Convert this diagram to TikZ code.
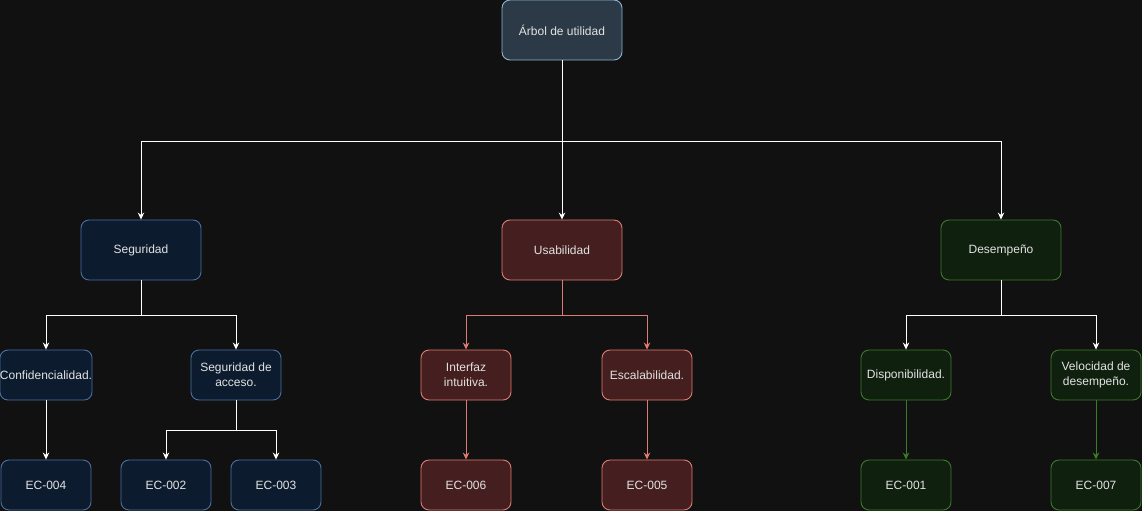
\documentclass[tikz,border=0pt]{standalone}
\usepackage{fontspec}
\setmainfont{Liberation Sans}
\usetikzlibrary{arrows.meta}
\definecolor{bgc}{HTML}{111111}
\definecolor{txt}{HTML}{E2E2E2}
\definecolor{rootfill}{HTML}{2B3A46}
\definecolor{rootline}{HTML}{8FB4D4}
\definecolor{bluefill}{HTML}{0D1B2E}
\definecolor{blueline}{HTML}{4A6FA3}
\definecolor{redfill}{HTML}{451F1F}
\definecolor{redline}{HTML}{E07A72}
\definecolor{greenfill}{HTML}{10200F}
\definecolor{greenline}{HTML}{3B7A27}
\tikzset{
  box/.style={draw, line width=0.9pt, rounded corners=8pt, text=txt, align=center,
    inner xsep=0pt, inner ysep=2pt,
    font=\fontsize{12}{15}\selectfont},
  bigbox/.style={box, minimum width=120pt, minimum height=60pt},
  smallbox/.style={box, minimum width=90pt, minimum height=50pt},
  rootc/.style={fill=rootfill, draw=rootline},
  bluec/.style={fill=bluefill, draw=blueline},
  redc/.style={fill=redfill, draw=redline},
  greenc/.style={fill=greenfill, draw=greenline},
  link/.style={line width=0.9pt, -{Stealth[length=7pt,width=6.5pt]}},
  wlink/.style={link, draw=white},
  rlink/.style={link, draw=redline},
  glink/.style={link, draw=greenline},
}
\begin{document}
\begin{tikzpicture}[x=1pt, y=-1pt]
  \fill[bgc] (0,0) rectangle (1142,511);
  \useasboundingbox (0,0) rectangle (1142,511);
  \clip (0,0) rectangle (1142,511);

  % top level
  \node[bigbox, rootc] (root) at (562,30) {Árbol de utilidad};

  % categories
  \node[bigbox, bluec] (seg) at (141,250) {Seguridad};
  \node[bigbox, redc] (usa) at (562,250) {Usabilidad};
  \node[bigbox, greenc] (des) at (1001,250) {Desempeño};

  % attributes
  \node[smallbox, bluec] (conf) at (46,375) {Confidencialidad.};
  \node[smallbox, bluec] (acc) at (236,375) {Seguridad de\\acceso.};
  \node[smallbox, redc] (intf) at (466,375) {Interfaz\\intuitiva.};
  \node[smallbox, redc] (esc) at (647,375) {Escalabilidad.};
  \node[smallbox, greenc] (disp) at (906,375) {Disponibilidad.};
  \node[smallbox, greenc] (vel) at (1096,375) {Velocidad de\\desempeño.};

  % scenarios
  \node[smallbox, bluec] (ec4) at (46,485) {EC-004};
  \node[smallbox, bluec] (ec2) at (166,485) {EC-002};
  \node[smallbox, bluec] (ec3) at (276,485) {EC-003};
  \node[smallbox, redc] (ec6) at (466,485) {EC-006};
  \node[smallbox, redc] (ec5) at (647,485) {EC-005};
  \node[smallbox, greenc] (ec1) at (906,485) {EC-001};
  \node[smallbox, greenc] (ec7) at (1096,485) {EC-007};

  % root to categories
  \draw[wlink] (root.south) -- ++(0,81) -| (seg.north);
  \draw[wlink] (root.south) -- (usa.north);
  \draw[wlink] (root.south) -- ++(0,81) -| (des.north);

  % categories to attributes
  \draw[wlink] (seg.south) -- ++(0,35) -| (conf.north);
  \draw[wlink] (seg.south) -- ++(0,35) -| (acc.north);
  \draw[rlink] (usa.south) -- ++(0,35) -| (intf.north);
  \draw[rlink] (usa.south) -- ++(0,35) -| (esc.north);
  \draw[wlink] (des.south) -- ++(0,35) -| (disp.north);
  \draw[wlink] (des.south) -- ++(0,35) -| (vel.north);

  % attributes to scenarios
  \draw[wlink] (conf.south) -- (ec4.north);
  \draw[wlink] (acc.south) -- ++(0,30) -| (ec2.north);
  \draw[wlink] (acc.south) -- ++(0,30) -| (ec3.north);
  \draw[rlink] (intf.south) -- (ec6.north);
  \draw[rlink] (esc.south) -- (ec5.north);
  \draw[glink] (disp.south) -- (ec1.north);
  \draw[glink] (vel.south) -- (ec7.north);
\end{tikzpicture}
\end{document}
